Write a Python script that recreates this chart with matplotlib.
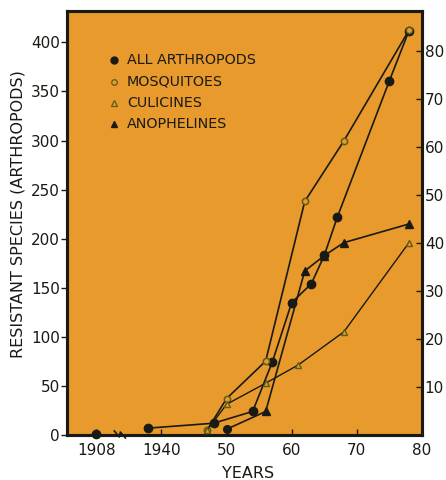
import matplotlib
matplotlib.use('Agg')
import matplotlib.pyplot as plt
import numpy as np

# ---- data ----
# all arthropods, left axis (number of resistant species)
arth_years = [1908, 1938, 1948, 1954, 1957, 1960, 1963, 1965, 1967, 1975, 1978]
arth_count = [1, 7, 12, 24, 74, 135, 154, 183, 222, 361, 412]

# mosquito groups, right axis
mosq_years = [1947, 1950, 1956, 1962, 1968, 1978]
mosq_count = [1, 7.6, 15.4, 48.7, 61.3, 84.4]

culi_years = [1947, 1950, 1956, 1961, 1968, 1978]
culi_count = [1, 6.4, 10.8, 14.6, 21.5, 40.1]

anop_years = [1950, 1956, 1962, 1965, 1968, 1978]
anop_count = [1.2, 4.9, 34.2, 37.4, 40.1, 44.0]

legend_labels = ['ALL ARTHROPODS', 'MOSQUITOES', 'CULICINES', 'ANOPHELINES']
xtick_pos = [1930, 1940, 1950, 1960, 1970, 1980]
xtick_labels = ['1908', '1940', '50', '60', '70', '80']
left_ticks = list(range(0, 401, 50))
right_ticks = list(range(10, 81, 10))

BG = '#E89A2C'
INK = '#1a1a14'
OLIVE = '#5c5c18'


def xpos(years):
    # broken axis: 1908 is drawn where 1930 would be
    return [1930 if y == 1908 else y for y in years]


fig = plt.figure(figsize=(4.46, 4.80), dpi=100)
ax = fig.add_axes([67 / 446, 1 - 435 / 480, 355 / 446, 424 / 480])
ax.set_facecolor(BG)
ax.set_xlim(1925.5, 1980)
ax.set_ylim(0, 432)

ax2 = ax.twinx()
ax2.set_ylim(0, 88.4)

# all arthropods
ax_x = xpos(arth_years)
ax.plot(ax_x[:1], arth_count[:1], 'o', color=INK, ms=6, clip_on=False, zorder=5)
ax.plot(ax_x[1:], arth_count[1:], '-o', color=INK, lw=1.2, ms=6, clip_on=False, zorder=4)

# mosquitoes
ax2.plot(mosq_years, mosq_count, '-o', color=INK, lw=1.2, ms=4.5,
         mfc=BG, mec=OLIVE, mew=1.1, clip_on=False, zorder=4)
# culicines
ax2.plot(culi_years, culi_count, '-^', color=INK, lw=1.0, ms=4.5,
         mfc=BG, mec=OLIVE, mew=1.0, clip_on=False, zorder=4)
# anophelines (first record drawn as a dot)
ax2.plot(anop_years, anop_count, '-', color=INK, lw=1.2, zorder=4)
ax2.plot(anop_years[:1], anop_count[:1], 'o', color=INK, ms=5.5, clip_on=False, zorder=5)
ax2.plot(anop_years[1:], anop_count[1:], '^', color=INK, ms=6, zorder=5)

# legend drawn by hand
leg_styles = [
    dict(marker='o', color=INK, ms=5),
    dict(marker='o', mfc=BG, mec=OLIVE, ms=4, mew=0.9),
    dict(marker='^', mfc=BG, mec=OLIVE, ms=4, mew=0.9),
    dict(marker='^', color=INK, ms=4.5),
]
for i, (lab, st) in enumerate(zip(legend_labels, leg_styles)):
    yy = 0.884 - i * 0.0503
    ax.plot([0.132], [yy], linestyle='none', transform=ax.transAxes, **st)
    ax.text(0.169, yy, lab, transform=ax.transAxes, va='center', ha='left',
            fontsize=10.3, color=INK)

# axes styling
for sp in ax.spines.values():
    sp.set_linewidth(2.2)
    sp.set_color(INK)
for sp in ax2.spines.values():
    sp.set_linewidth(2.2)
    sp.set_color(INK)

ax.set_xticks(xtick_pos)
ax.set_xticklabels(xtick_labels)
ax.set_yticks(left_ticks)
ax.tick_params(axis='y', direction='out', length=4, width=1, pad=1,
               labelsize=11, colors=INK)
ax.tick_params(axis='x', direction='in', length=4, width=1, pad=6,
               labelsize=11, colors=INK)
ax2.set_yticks(right_ticks)
ax2.tick_params(axis='y', direction='in', length=4, width=1, pad=2,
                labelsize=11, colors=INK)

# break mark on the x axis, and the red stretch of axis near it
tr = ax.get_xaxis_transform()
bx = [(px - 161) / 6.5 + 1940 for px in (114, 119, 120, 125)]
by = [(435 - py) / 424 for py in (431, 437, 432, 438)]
ax.plot(bx, by, color=INK, lw=1.2, transform=tr, clip_on=False, zorder=6)
ax.plot([(88 - 161) / 6.5 + 1940, (121 - 161) / 6.5 + 1940], [0, 0],
        color='#d42020', lw=1.8, transform=tr, clip_on=False, zorder=6)

fig.text(18 / 446, 1 - 214.5 / 480, 'RESISTANT SPECIES (ARTHROPODS)', rotation=90,
         ha='center', va='center', fontsize=11.5, color=INK)
fig.text(248 / 446, 1 - 473 / 480, 'YEARS', ha='center', va='center',
         fontsize=11.5, color=INK)

fig.savefig('out.png', dpi=100)
